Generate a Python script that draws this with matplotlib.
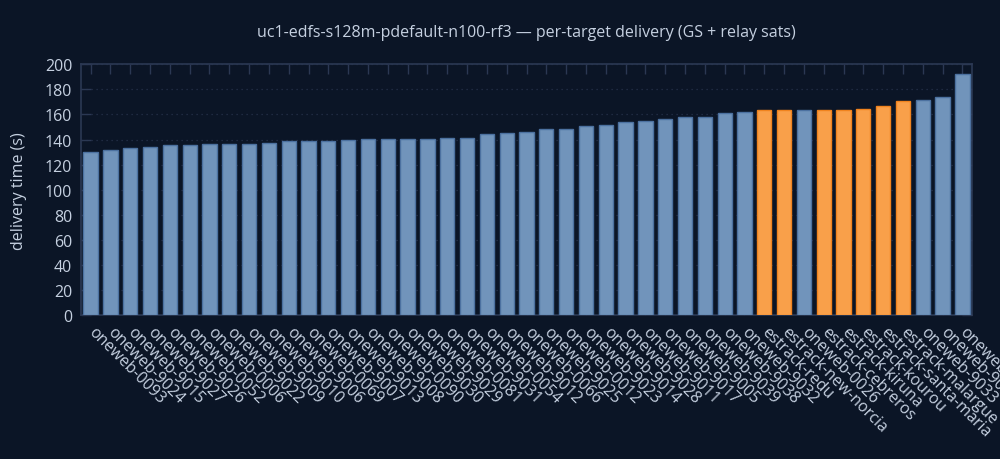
import matplotlib
matplotlib.use("Agg")
import matplotlib.pyplot as plt

# per-target delivery times (s), sorted ascending as in the run report
targets = [
    "oneweb-0093", "oneweb-9024", "oneweb-9015", "oneweb-9027", "oneweb-9026",
    "oneweb-0052", "oneweb-0006", "oneweb-9022", "oneweb-9009", "oneweb-9010",
    "oneweb-9006", "oneweb-0069", "oneweb-9007", "oneweb-9013", "oneweb-9008",
    "oneweb-0090", "oneweb-9030", "oneweb-9029", "oneweb-0081", "oneweb-9031",
    "oneweb-0054", "oneweb-9012", "oneweb-0066", "oneweb-9025", "oneweb-0012",
    "oneweb-9023", "oneweb-9014", "oneweb-9028", "oneweb-9011", "oneweb-9017",
    "oneweb-9005", "oneweb-9039", "oneweb-9038", "oneweb-9032", "estrack-redu",
    "estrack-new-norcia", "oneweb-0026", "estrack-cebreros", "estrack-kiruna",
    "estrack-kourou", "estrack-santa-maria", "estrack-malargue", "oneweb-9033",
    "oneweb-9034", "oneweb-9002",
]
delivery_s = [
    130.4, 131.5, 133.1, 133.9, 135.5, 135.5, 136.3, 136.3, 136.3, 137.1,
    138.6, 138.6, 138.6, 139.4, 140.2, 140.2, 140.2, 140.2, 141.0, 141.6,
    144.2, 145.0, 145.8, 148.2, 148.2, 150.6, 151.2, 153.6, 155.1, 156.7,
    158.3, 158.3, 161.5, 162.3, 163.9, 163.9, 163.9, 163.9, 163.9, 164.7,
    167.1, 171.1, 171.9, 174.3, 192.6,
]

BG = "#0b1526"
TEXT = "#c5d0e0"
AXIS = "#2b3853"
GRID = "#26324a"
SAT_FACE, SAT_EDGE = "#7194bb", "#4c71a0"
GS_FACE, GS_EDGE = "#f9a04a", "#f0831e"

plt.rcParams["font.family"] = ["Open Sans", "DejaVu Sans"]

fig = plt.figure(figsize=(10, 4.6), dpi=100, facecolor=BG)
ax = fig.add_axes([0.0807, 0.313, 0.8916, 0.545], facecolor=BG)

is_gs = [t.startswith("estrack") for t in targets]
faces = [GS_FACE if g else SAT_FACE for g in is_gs]
edges = [GS_EDGE if g else SAT_EDGE for g in is_gs]

x = list(range(len(targets)))
ax.bar(x, delivery_s, width=0.72, color=faces, edgecolor=edges, linewidth=1.0, zorder=3)

ax.set_xlim(-0.5, len(targets) - 0.5)
ax.set_ylim(0, 200)
ax.set_yticks(range(0, 201, 20))
ax.set_xticks(x)
ax.set_xticklabels(targets, rotation=-45, ha="left", va="center",
                   rotation_mode="anchor", fontsize=11.5, color=TEXT)
ax.tick_params(axis="y", labelsize=11.5, labelcolor=TEXT)
ax.tick_params(axis="both", direction="in", length=7, width=1, color=AXIS,
               top=True, right=True)
ax.tick_params(axis="x", pad=10)
ax.tick_params(axis="y", pad=6)

ax.grid(axis="y", color=GRID, linestyle=(0, (1, 3)), linewidth=0.9, zorder=0)
for s in ax.spines.values():
    s.set_color(AXIS)
    s.set_linewidth(1.2)

ax.set_ylabel("delivery time (s)", color=TEXT, fontsize=11.5, labelpad=13)
fig.text(0.5265, 0.928, "uc1-edfs-s128m-pdefault-n100-rf3 \u2014 per-target delivery (GS + relay sats)",
         ha="center", va="center", color=TEXT, fontsize=11.5)

fig.savefig("out.png", dpi=100, facecolor=BG)
